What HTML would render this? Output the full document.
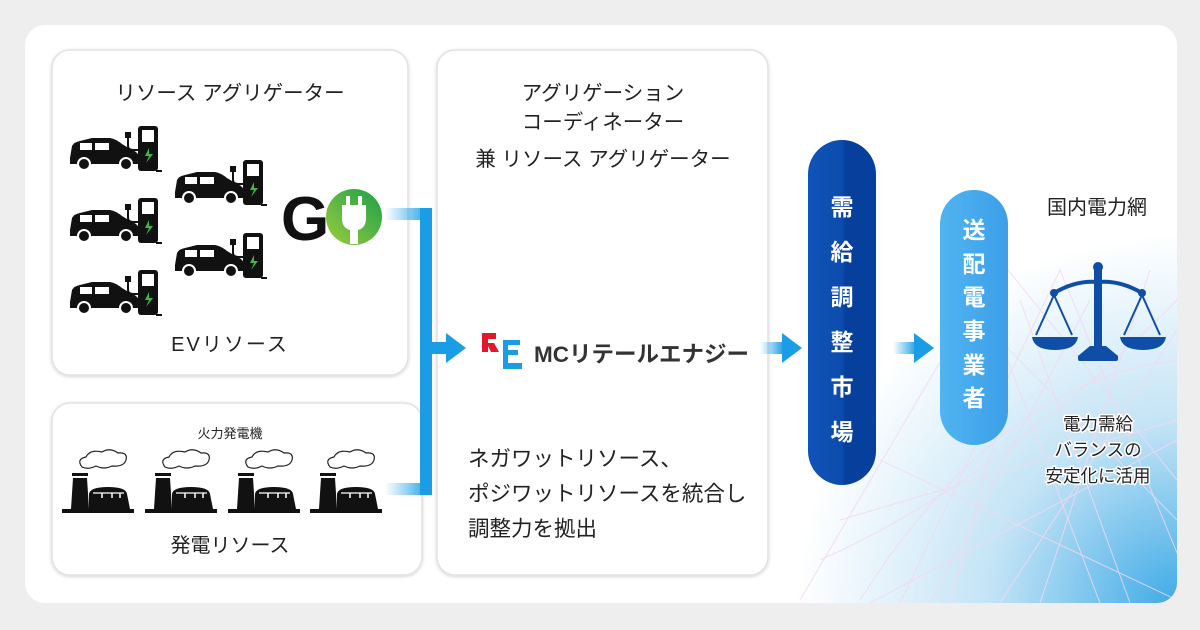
<!DOCTYPE html>
<html><head><meta charset="utf-8"><style>
html,body{margin:0;padding:0;background:#eeeeee;}
svg text{font-family:"Liberation Sans","Noto Sans CJK JP",sans-serif;}
</style></head><body>
<svg width="1200" height="625" viewBox="0 0 1200 625" xmlns="http://www.w3.org/2000/svg">
<defs>
<radialGradient id="bg" cx="1.0" cy="1.0" r="0.8">
<stop offset="0" stop-color="#3aa9e6"/><stop offset="0.5" stop-color="#c4e4f6"/><stop offset="1" stop-color="#ffffff"/>
</radialGradient>
<linearGradient id="hfade" x1="0" x2="1"><stop offset="0" stop-color="#2aa5e8" stop-opacity="0"/><stop offset="1" stop-color="#1a9de4"/></linearGradient>
<linearGradient id="pill1" x1="0" x2="1"><stop offset="0" stop-color="#1053b8"/><stop offset="0.5" stop-color="#0c4cad"/><stop offset="0.55" stop-color="#06409c"/><stop offset="1" stop-color="#06409c"/></linearGradient>
<linearGradient id="pill2" x1="0" x2="1"><stop offset="0" stop-color="#50b4f2"/><stop offset="1" stop-color="#3c9fe8"/></linearGradient>
<linearGradient id="go" x1="0" y1="1" x2="1" y2="0"><stop offset="0" stop-color="#9ccc3c"/><stop offset="1" stop-color="#1aa04a"/></linearGradient>
<filter id="sh" x="-5%" y="-5%" width="110%" height="110%"><feDropShadow dx="0" dy="1" stdDeviation="1.5" flood-color="#000" flood-opacity="0.18"/></filter>
<g id="car">
<path d="M0,22 L2,10 Q4,6 10,5 L22,2 L40,2 Q46,3 52,8 L62,14 Q68,16 70,22 L70,28 L0,28 Z" fill="#111"/>
<rect x="10" y="7" width="12" height="7" fill="#fff"/><rect x="25" y="7" width="14" height="7" fill="#fff"/>
<circle cx="14" cy="28" r="6" fill="#111" stroke="#fff" stroke-width="2"/><circle cx="56" cy="28" r="6" fill="#111" stroke="#fff" stroke-width="2"/>
<rect x="68" y="-10" width="20" height="45" rx="3" fill="#111"/><rect x="72" y="-6" width="12" height="12" fill="#fff"/>
<path d="M79,12 L75,20 L79,20 L76,27 L83,18 L79,18 Z" fill="#3cb84a"/>
<rect x="86" y="34" width="6" height="2" fill="#111"/>
<path d="M58,2 L58,10 Q58,14 64,14 L70,14" stroke="#111" stroke-width="2" fill="none"/>
<rect x="55" y="-4" width="6" height="6" fill="#111"/>
</g>
<g id="fac">
<path d="M20,10 Q14,2 24,0 Q28,-8 40,-5 Q48,-10 56,-4 Q66,-5 64,3 Q62,10 50,9 Q42,13 34,9 Q26,13 20,10Z" fill="#fff" stroke="#222" stroke-width="1.2"/>
<rect x="10" y="16" width="16" height="3" fill="#111"/>
<path d="M11,21 L25,21 L27,52 L9,52 Z" fill="#111"/>
<path d="M27,37 Q28,30 46,30 Q64,30 65,37 L68,52 L27,52Z" fill="#111"/>
<path d="M31,36 L62,36" stroke="#fff" stroke-width="1.2"/>
<path d="M40,36 L40,41 M50,36 L50,41 M58,36 L58,41" stroke="#fff" stroke-width="1.5"/>
<rect x="0" y="52" width="72" height="4" fill="#111"/>
</g>
</defs>
<rect x="25" y="25" width="1152" height="578" rx="20" fill="#ffffff"/>
<clipPath id="oc"><rect x="25" y="25" width="1152" height="578" rx="20"/></clipPath>
<g clip-path="url(#oc)">
<rect x="700" y="140" width="480" height="470" fill="url(#bg)"/>
<g stroke="#f4d8ee" stroke-width="1" opacity="0.85" fill="none">
<path d="M800,600 L1000,260 L1177,480"/><path d="M900,603 L1060,270 L1180,560"/>
<path d="M1000,603 L1177,330"/><path d="M840,520 L1177,420"/><path d="M880,460 L1177,600"/>
<path d="M960,300 L1177,520"/><path d="M1000,340 L1100,603"/><path d="M1090,300 L930,603"/>
<path d="M1150,270 L1040,603"/><path d="M860,600 Q1000,380 1177,360"/><path d="M820,560 Q1000,480 1177,300"/>
<path d="M870,603 L1177,440"/><path d="M950,603 L1000,420"/><path d="M1130,603 L1020,300"/>
</g>
</g>
<!-- boxes -->
<rect x="52" y="50" width="356" height="325" rx="18" fill="#fff" stroke="#e2e2e2" stroke-width="1.5" filter="url(#sh)"/>
<rect x="52" y="403" width="370" height="172" rx="18" fill="#fff" stroke="#e2e2e2" stroke-width="1.5" filter="url(#sh)"/>
<rect x="437" y="50" width="331" height="525" rx="18" fill="#fff" stroke="#e2e2e2" stroke-width="1.5" filter="url(#sh)"/>
<text x="230" y="100" font-size="20.5" text-anchor="middle" fill="#222">リソース アグリゲーター</text>
<text x="230" y="351" font-size="20" text-anchor="middle" fill="#222" letter-spacing="2">EVリソース</text>
<use href="#car" x="70" y="136"/><use href="#car" x="70" y="208"/><use href="#car" x="70" y="280"/>
<use href="#car" x="175" y="170"/><use href="#car" x="175" y="243"/>
<!-- GO -->
<text x="281" y="240" font-size="62" font-weight="bold" fill="#111">G</text>
<circle cx="354" cy="217" r="28" fill="url(#go)"/>
<path d="M342,205 L366,205 L366,218 Q366,228 358,230 L358,244 L350,244 L350,230 Q342,228 342,218Z" fill="#fff"/>
<rect x="346" y="196" width="4" height="10" fill="#fff"/><rect x="358" y="196" width="4" height="10" fill="#fff"/>
<text x="230" y="438" font-size="13" text-anchor="middle" fill="#222">火力発電機</text>
<use href="#fac" x="62" y="457"/><use href="#fac" x="145" y="457"/><use href="#fac" x="228" y="457"/><use href="#fac" x="310" y="457"/>
<text x="230" y="552" font-size="20" text-anchor="middle" fill="#222">発電リソース</text>
<!-- connectors -->
<rect x="385" y="208" width="45" height="12" fill="url(#hfade)"/>
<rect x="385" y="483" width="45" height="12" fill="url(#hfade)"/>
<rect x="420" y="208" width="12" height="287" fill="#1a9de4"/>
<rect x="432" y="342" width="16" height="12" fill="#1a9de4"/>
<polygon points="446,333 466,348 446,363" fill="#1a9de4"/>
<!-- middle -->
<text x="603" y="100" font-size="20.5" text-anchor="middle" fill="#222">アグリゲーション</text>
<text x="603" y="129" font-size="20.5" text-anchor="middle" fill="#222">コーディネーター</text>
<text x="603" y="166" font-size="20.5" text-anchor="middle" fill="#222">兼 リソース アグリゲーター</text>
<path d="M482,333 L496,333 L496,339 L488,339 L488,343 L494,343 L499,352 L491,352 L488,346 L488,352 L482,352Z" fill="#e0182a"/>
<path d="M503,340 L520,340 L520,345 L508,345 L508,350 L518,350 L518,355 L508,355 L508,363 L522,363 L522,369 L503,369Z" fill="#1a9de4"/>
<text x="534" y="362" font-size="22.5" font-weight="bold" fill="#333">MCリテールエナジー</text>
<text x="468" y="466" font-size="21.5" fill="#222">ネガワットリソース、</text>
<text x="468" y="501" font-size="21.5" fill="#222">ポジワットリソースを統合し</text>
<text x="468" y="536" font-size="21.5" fill="#222">調整力を拠出</text>
<!-- arrows -->
<rect x="760" y="342" width="24" height="12" fill="url(#hfade)"/><polygon points="782,333 802,348 782,363" fill="#1a9de4"/>
<rect x="893" y="342" width="24" height="12" fill="url(#hfade)"/><polygon points="914,333 934,348 914,363" fill="#1a9de4"/>
<!-- pills -->
<rect x="808" y="140" width="68" height="345" rx="34" fill="url(#pill1)"/>
<g font-size="23" font-weight="bold" fill="#fff" text-anchor="middle">
<text x="842" y="215">需</text><text x="842" y="260">給</text><text x="842" y="305">調</text><text x="842" y="350">整</text><text x="842" y="395">市</text><text x="842" y="440">場</text>
</g>
<rect x="940" y="190" width="68" height="255" rx="34" fill="url(#pill2)"/>
<g font-size="23" font-weight="bold" fill="#fff" text-anchor="middle">
<text x="974" y="238">送</text><text x="974" y="272">配</text><text x="974" y="305">電</text><text x="974" y="339">事</text><text x="974" y="373">業</text><text x="974" y="406">者</text>
</g>
<text x="1097" y="214" font-size="20" text-anchor="middle" fill="#222">国内電力網</text>
<!-- scale -->
<g fill="#0f4ea6" stroke="#0f4ea6">
<circle cx="1098" cy="267" r="5" stroke="none"/>
<rect x="1094" y="270" width="8" height="78" stroke="none"/>
<path d="M1054,293 Q1076,280 1098,282 Q1120,280 1142,293" fill="none" stroke-width="4"/>
<circle cx="1054" cy="293" r="4" stroke="none"/><circle cx="1142" cy="293" r="4" stroke="none"/>
<path d="M1054,295 L1036,335 M1054,295 L1072,335 M1142,295 L1124,335 M1142,295 L1160,335" stroke-width="2" fill="none"/>
<path d="M1032,337 L1078,337 Q1076,350 1055,350 Q1034,350 1032,337Z" stroke="none"/>
<path d="M1120,337 L1166,337 Q1164,350 1143,350 Q1122,350 1120,337Z" stroke="none"/>
<path d="M1090,346 L1106,346 L1118,356 L1078,356Z" stroke="none"/>
<rect x="1078" y="355" width="40" height="6" rx="2" stroke="none"/>
</g>
<g font-size="17.5" text-anchor="middle" fill="#222" stroke="#fff" stroke-width="3" paint-order="stroke">
<text x="1098" y="430">電力需給</text><text x="1098" y="456">バランスの</text><text x="1098" y="482">安定化に活用</text>
</g>
</svg>
</body></html>
